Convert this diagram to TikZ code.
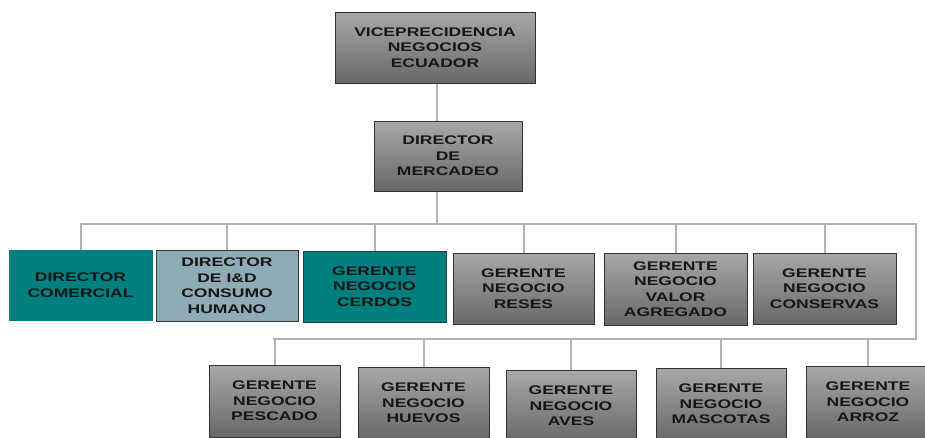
\documentclass[tikz,border=0pt]{standalone}
\usepackage{fontspec}
\newfontfamily\boxfont[FakeStretch=1.4]{Liberation Sans}
\definecolor{tealbox}{RGB}{0,127,128}
\definecolor{bluegray}{RGB}{143,171,184}
\definecolor{linegray}{RGB}{178,178,178}
\definecolor{edgegray}{RGB}{50,50,50}
\definecolor{graytop}{RGB}{168,168,168}
\definecolor{graybot}{RGB}{104,104,104}
\definecolor{inkdark}{RGB}{22,22,22}
\tikzset{
  orgbox/.style={rectangle, draw=edgegray, line width=1pt, inner sep=0pt,
    align=center, text=inkdark,
    font=\boxfont\bfseries\fontsize{12.5pt}{15.5pt}\selectfont},
  graybox/.style={orgbox, top color=graytop, bottom color=graybot},
  tealbox/.style={orgbox, fill=tealbox, draw=tealbox},
  tealedged/.style={orgbox, fill=tealbox, draw=edgegray!80!tealbox},
  bluebox/.style={orgbox, fill=bluegray},
  conn/.style={draw=linegray, line width=2pt},
}
\begin{document}
\begin{tikzpicture}[x=1pt, y=-1pt]
\useasboundingbox (0,0) rectangle (925,437);

% top levels
\node[graybox, minimum width=200pt, minimum height=71pt] (vp) at (435,47.5)
  {VICEPRECIDENCIA\\NEGOCIOS\\ECUADOR};
\node[graybox, minimum width=148pt, minimum height=70pt] (dm) at (448,156)
  {DIRECTOR\\DE\\MERCADEO};

% first row
\node[tealbox, minimum width=143pt, minimum height=70pt] (dc) at (80.5,285)
  {DIRECTOR\\COMERCIAL};
\node[bluebox, minimum width=142pt, minimum height=71pt] (idd) at (227,285.5)
  {DIRECTOR\\DE I\&D\\CONSUMO\\HUMANO};
\node[tealedged, minimum width=143pt, minimum height=71pt] (cerdos) at (374.5,286.5)
  {GERENTE\\NEGOCIO\\CERDOS};
\node[graybox, minimum width=141pt, minimum height=71pt] (reses) at (523.5,288.5)
  {GERENTE\\NEGOCIO\\RESES};
\node[graybox, minimum width=143pt, minimum height=72pt] (valor) at (675.5,289)
  {GERENTE\\NEGOCIO\\VALOR\\AGREGADO};
\node[graybox, minimum width=143pt, minimum height=71pt] (conserv) at (824.5,288.5)
  {GERENTE\\NEGOCIO\\CONSERVAS};

% second row
\node[graybox, minimum width=131pt, minimum height=72pt] (pescado) at (274.5,401)
  {GERENTE\\NEGOCIO\\PESCADO};
\node[graybox, minimum width=131pt, minimum height=72pt] (huevos) at (423.5,403)
  {GERENTE\\NEGOCIO\\HUEVOS};
\node[graybox, minimum width=130pt, minimum height=72pt] (aves) at (571,406)
  {GERENTE\\NEGOCIO\\AVES};
\node[graybox, minimum width=130pt, minimum height=72pt] (mascotas) at (721,404)
  {GERENTE\\NEGOCIO\\MASCOTAS};
\node[graybox, minimum width=124pt, minimum height=72pt] (arroz) at (868,402)
  {GERENTE\\NEGOCIO\\ARROZ};

% bus lines
\coordinate (trunk) at (437,0);
\coordinate (busA) at (80,224);
\coordinate (busB) at (916,224);
\coordinate (busC) at (916,339);
\coordinate (busD) at (273,339);

\path[conn] (vp.south -| trunk) -- (dm.north -| trunk);
\path[conn] (dm.south -| trunk) -- (busA -| trunk);
\path[conn] (busA) -- (busB) -- (busC) -- (busD);

\foreach \n in {dc,idd,cerdos,reses,valor,conserv}
  \path[conn] (\n.north) -- (\n.north |- busA);
\foreach \n in {pescado,huevos,aves,mascotas,arroz}
  \path[conn] (\n.north) -- (\n.north |- busD);
\end{tikzpicture}
\end{document}
